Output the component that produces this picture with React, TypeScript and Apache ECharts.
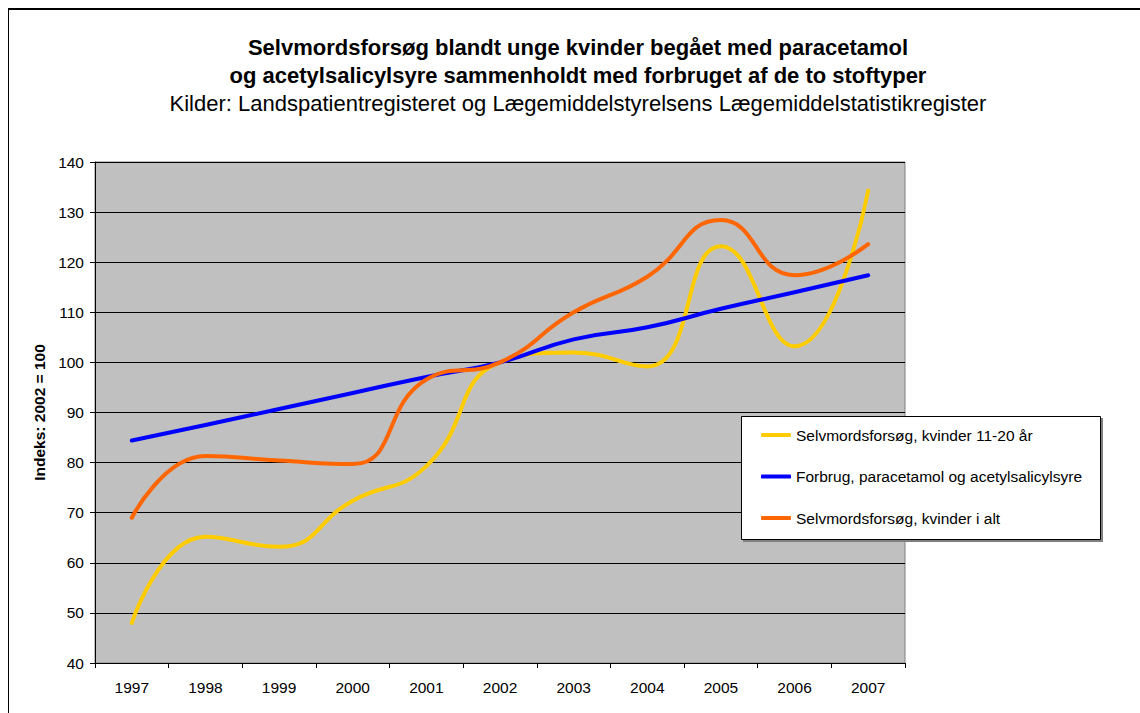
import React, { useEffect, useRef } from "react";
import * as echarts from "echarts";

const categories = ["1997", "1998", "1999", "2000", "2001", "2002", "2003", "2004", "2005", "2006", "2007"];
const youngWomen = [48, 65.2, 63.2, 72.4, 79.3, 100, 102, 99.2, 123.2, 103.2, 134.3];
const consumption = [84.4, 87.5, 90.7, 93.9, 97.1, 100, 104.6, 107, 110.7, 114, 117.4];
const allWomen = [69, 81.3, 80.4, 79.7, 96.6, 100, 110, 117.1, 128.4, 117.4, 123.6];

const seriesNames = [
  "Selvmordsforsøg, kvinder 11-20 år",
  "Forbrug, paracetamol og acetylsalicylsyre",
  "Selvmordsforsøg, kvinder i alt",
];
const seriesColors = ["#FFCC00", "#0000FF", "#FF6600"];

const titleText = "Selvmordsforsøg blandt unge kvinder begået med paracetamol\nog acetylsalicylsyre sammenholdt med forbruget af de to stoftyper";
const subText = "Kilder: Landspatientregisteret og Lægemiddelstyrelsens Lægemiddelstatistikregister";
const yAxisName = "Indeks: 2002 = 100";

const FONT = "'Liberation Sans', Arial, sans-serif";
const LABEL_SIZE = 15.5;

export default function App() {
  const ref = useRef<HTMLDivElement>(null);
  useEffect(() => {
    if (!ref.current) return;
    const chart = echarts.init(ref.current, null, { renderer: "svg" });
    const dataSets = [youngWomen, consumption, allWomen];
    chart.setOption({
      animation: false,
      backgroundColor: "#FFFFFF",
      textStyle: { fontFamily: FONT },
      title: {
        text: titleText,
        subtext: subText,
        left: 578,
        top: 33,
        textAlign: "center",
        itemGap: 0,
        padding: 0,
        textStyle: { fontFamily: FONT, fontSize: 22, fontWeight: "bold", color: "#000", lineHeight: 28 },
        subtextStyle: { fontFamily: FONT, fontSize: 22, color: "#000", lineHeight: 28 },
      },
      grid: {
        left: 95,
        top: 162,
        right: 235,
        bottom: 50,
        show: true,
        backgroundColor: "#C0C0C0",
        borderColor: "#808080",
        borderWidth: 1,
      },
      legend: {
        orient: "vertical",
        left: 761,
        top: 427,
        padding: 0,
        icon: "roundRect",
        itemWidth: 30,
        itemHeight: 4,
        itemGap: 25.5,
        z: 20,
        data: seriesNames,
        textStyle: { fontFamily: FONT, fontSize: LABEL_SIZE, color: "#000" },
      },
      xAxis: {
        type: "category",
        data: categories,
        boundaryGap: true,
        axisLine: { show: true, lineStyle: { color: "#000", width: 1 } },
        axisTick: { show: true, length: 5, lineStyle: { color: "#000" } },
        axisLabel: { fontFamily: FONT, fontSize: LABEL_SIZE, color: "#000", margin: 16 },
        splitLine: { show: false },
      },
      yAxis: {
        type: "value",
        min: 40,
        max: 140,
        interval: 10,
        name: yAxisName,
        nameLocation: "middle",
        nameRotate: 90,
        nameGap: 45,
        nameTextStyle: { fontFamily: FONT, fontSize: LABEL_SIZE, fontWeight: "bold", color: "#000" },
        axisLine: { show: true, lineStyle: { color: "#000", width: 1 } },
        axisTick: { show: true, length: 5, lineStyle: { color: "#000" } },
        axisLabel: { fontFamily: FONT, fontSize: LABEL_SIZE, color: "#000", margin: 11 },
        splitLine: { show: true, lineStyle: { color: "#000", width: 1 } },
      },
      series: dataSets.map((d, i) => ({
        name: seriesNames[i],
        type: "line",
        data: d,
        smooth: 0.5,
        symbol: "none",
        showSymbol: false,
        z: 3,
        lineStyle: { color: seriesColors[i], width: 4, cap: "round", join: "round" },
        itemStyle: { color: seriesColors[i] },
      })),
      graphic: [
        { type: "rect", shape: { x: 8, y: 8, width: 1132, height: 2 }, style: { fill: "#000" }, silent: true },
        { type: "rect", shape: { x: 8, y: 8, width: 1, height: 705 }, style: { fill: "#000" }, silent: true },
        { type: "rect", z: 10, shape: { x: 743, y: 418, width: 360, height: 124 }, style: { fill: "#808080" }, silent: true },
        { type: "rect", z: 11, shape: { x: 741.5, y: 416.5, width: 359, height: 123 }, style: { fill: "#FFFFFF", stroke: "#000", lineWidth: 1 }, silent: true },
      ],
    });
    return () => chart.dispose();
  }, []);
  return <div ref={ref} style={{ position: "fixed", left: 0, top: 0, width: 1140, height: 713 }} />;
}
